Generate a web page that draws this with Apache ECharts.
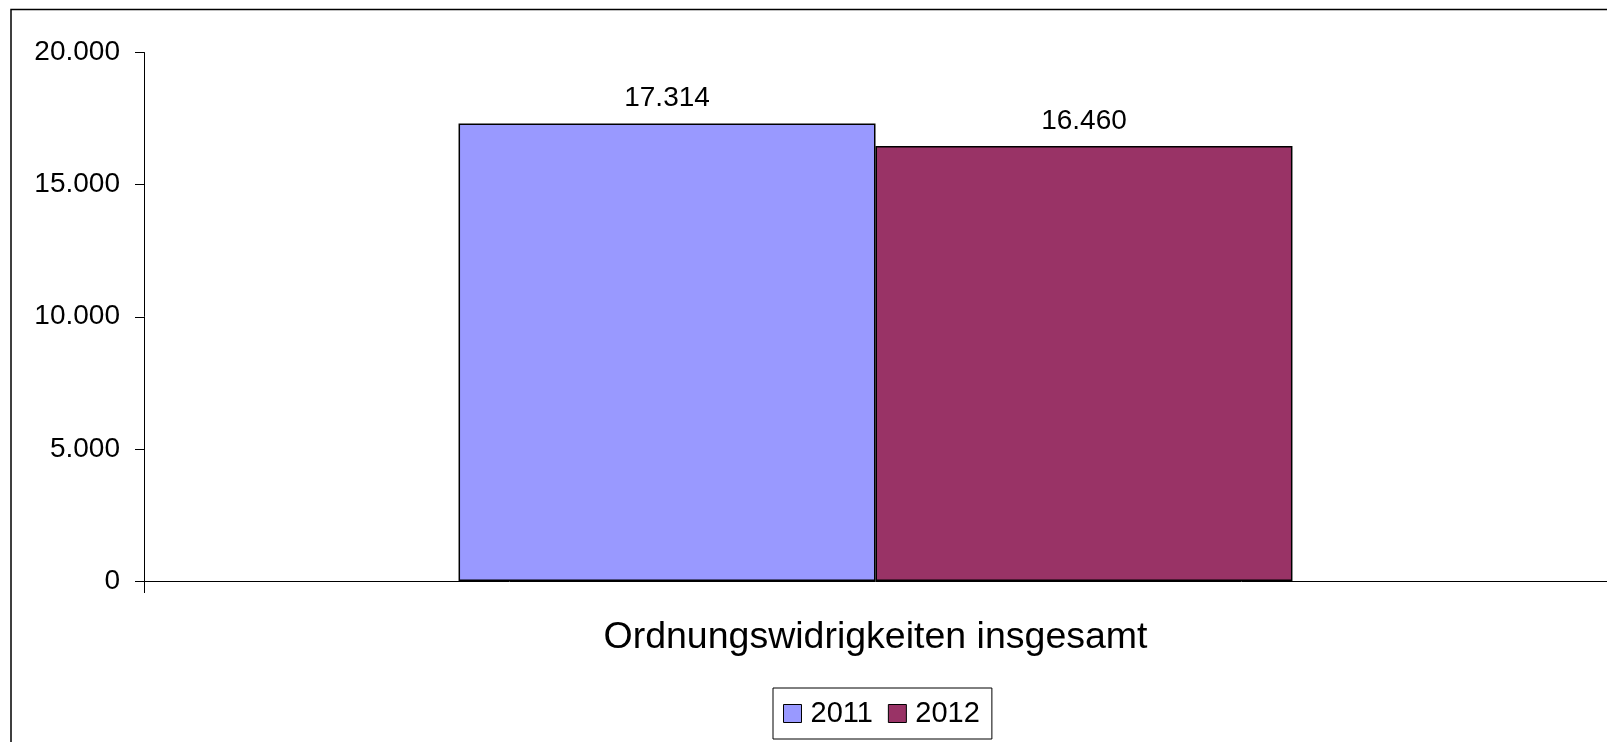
<!DOCTYPE html>
<html>
<head>
<meta charset="utf-8">
<script src="https://cdn.jsdelivr.net/npm/echarts@6/dist/echarts.min.js"></script>
<style>
  html, body { margin: 0; padding: 0; background: #fff; }
  #chart { width: 1607px; height: 742px; }
</style>
</head>
<body>
<div id="chart"></div>
<script>
// Daten
const categories = ['Ordnungswidrigkeiten insgesamt'];
const years = ['2011', '2012'];
const values2011 = [17314];
const values2012 = [16460];
const yTicks = { min: 0, max: 20000, interval: 5000 };

const colors = ['#9999ff', '#993366'];
const fontFamily = '"Liberation Sans", Arial, Helvetica, sans-serif';

// Tausenderpunkt wie im Original
const fmt = (v) => String(v).replace(/\B(?=(\d{3})+(?!\d))/g, '.');

const myChart = echarts.init(document.getElementById('chart'));

const barSeries = (name, data, color) => ({
  name,
  type: 'bar',
  data,
  barGap: '0%',
  barCategoryGap: '43%',
  itemStyle: { color, borderColor: '#000', borderWidth: 1.5 },
  label: {
    show: true,
    position: 'top',
    distance: 11,
    color: '#000',
    fontSize: 28,
    fontFamily,
    formatter: (p) => fmt(p.value)
  },
  emphasis: { disabled: true }
});

const option = {
  animation: false,
  backgroundColor: '#fff',
  textStyle: { fontFamily },
  graphic: [{
    type: 'rect',
    silent: true,
    z: -1,
    shape: { x: 11, y: 9.5, width: 2000, height: 2000 },
    style: { fill: 'none', stroke: '#000', lineWidth: 1.5 }
  }],
  grid: { left: 144, right: 0, top: 52.5, bottom: 161, containLabel: false },
  legend: {
    data: years,
    left: 773,
    bottom: 3,
    orient: 'horizontal',
    itemWidth: 18,
    itemHeight: 18,
    itemGap: 15,
    padding: [11, 12, 11, 10],
    borderColor: '#000',
    borderWidth: 1,
    backgroundColor: '#fff',
    icon: 'rect',
    itemStyle: { borderColor: '#000', borderWidth: 1 },
    textStyle: { fontSize: 29, color: '#000', fontFamily, padding: [0, 0, 0, 4] }
  },
  xAxis: {
    type: 'category',
    data: categories,
    axisLine: { lineStyle: { color: '#000', width: 1 } },
    axisTick: { show: true, length: 12, alignWithLabel: false, lineStyle: { color: '#000' } },
    axisLabel: { color: '#000', fontSize: 37.5, margin: 38, fontFamily },
    splitLine: { show: false }
  },
  yAxis: {
    type: 'value',
    min: yTicks.min,
    max: yTicks.max,
    interval: yTicks.interval,
    axisLine: { show: true, lineStyle: { color: '#000', width: 1 } },
    axisTick: { show: true, length: 9, inside: false, lineStyle: { color: '#000' } },
    axisLabel: { color: '#000', fontSize: 28, margin: 24, padding: [4, 0, 0, 0], fontFamily, formatter: fmt },
    splitLine: { show: false }
  },
  series: [
    barSeries(years[0], values2011, colors[0]),
    barSeries(years[1], values2012, colors[1])
  ]
};

myChart.setOption(option);
</script>
</body>
</html>
